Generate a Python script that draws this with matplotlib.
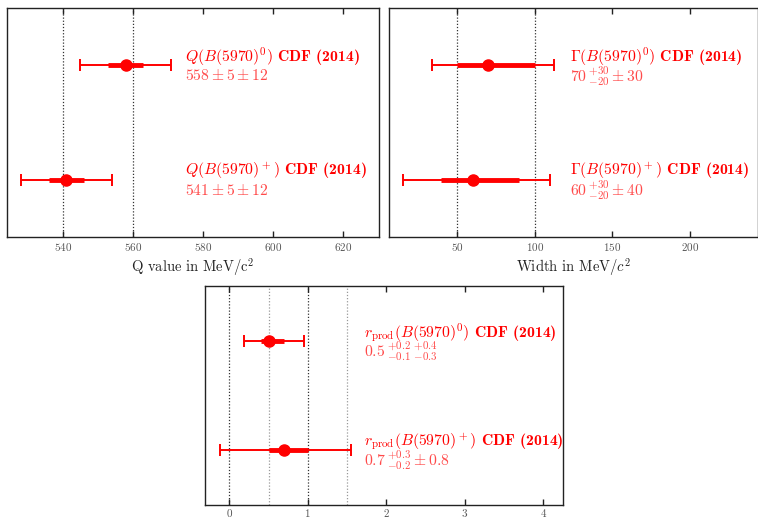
import numpy as np
import matplotlib
matplotlib.use("Agg")
import matplotlib.pyplot as plt

plt.rcParams['mathtext.fontset'] = 'cm'
plt.rcParams['font.family'] = 'serif'
plt.rcParams['font.serif'] = ['cmr10']
plt.rcParams['axes.formatter.use_mathtext'] = True

# ---- data ----
q_vals = [558, 541]
q_stat_lo = [5, 5]
q_stat_hi = [5, 5]
q_syst_lo = [12, 12]
q_syst_hi = [12, 12]
q_labels = [r"$Q(B(5970)^0)$ CDF (2014)", r"$Q(B(5970)^+)$ CDF (2014)"]
q_texts = [r"$558 \pm 5 \pm 12$", r"$541 \pm 5 \pm 12$"]

w_vals = [70, 60]
w_stat_lo = [20, 20]
w_stat_hi = [30, 30]
w_syst_lo = [30, 40]
w_syst_hi = [30, 40]
w_labels = [r"$\Gamma(B(5970)^0)$ CDF (2014)", r"$\Gamma(B(5970)^+)$ CDF (2014)"]
w_texts = [r"$70\,^{+30}_{-20} \pm 30$", r"$60\,^{+30}_{-20} \pm 40$"]

r_vals = [0.5, 0.7]
r_stat_lo = [0.1, 0.2]
r_stat_hi = [0.2, 0.3]
r_syst_lo = [0.3, 0.8]
r_syst_hi = [0.4, 0.8]
r_labels = [r"$r_{\rm prod}(B(5970)^0)$ CDF (2014)", r"$r_{\rm prod}(B(5970)^+)$ CDF (2014)"]
r_texts = [r"$0.5\,^{+0.2}_{-0.1}\,^{+0.4}_{-0.3}$", r"$0.7\,^{+0.3}_{-0.2} \pm 0.8$"]

ypos = [0.75, 0.25]

RED = '#ff0000'
LRED = '#ff4a4a'
SPINE = '#222222'


def panel(ax, vals, slo, shi, ylo, yhi, labels, texts, xlim, xticks, vlines, text_x,
          xlabel=None, vstyles=None, pad=3):
    ax.set_xlim(*xlim)
    ax.set_ylim(0, 1)
    for i, v in enumerate(vlines):
        c = '#333333'
        if vstyles is not None:
            c = vstyles[i]
        ax.axvline(v, color=c, ls=(0, (1, 1.5)), lw=0.9, zorder=1)
    for i in range(len(vals)):
        v = vals[i]
        tlo = np.hypot(slo[i], ylo[i])
        thi = np.hypot(shi[i], yhi[i])
        y = ypos[i]
        ax.errorbar([v], [y], xerr=[[tlo], [thi]], fmt='none', ecolor=RED,
                    elinewidth=1.4, capsize=4.5, capthick=1.4, zorder=3)
        ax.plot([v - slo[i], v + shi[i]], [y, y], color=RED, lw=3.5,
                solid_capstyle='butt', zorder=4)
        ax.plot([v], [y], 'o', color=RED, ms=8, zorder=5)
        ax.text(text_x, y + 0.037, labels[i], color=RED, fontsize=11.3,
                family='cmb10', ha='left', va='center')
        ax.text(text_x, y - 0.047, texts[i], color=LRED, fontsize=11.3,
                ha='left', va='center')
    ax.set_xticks(xticks)
    ax.set_yticks([])
    ax.tick_params(axis='x', direction='in', top=True, bottom=True,
                   length=4, width=1, colors=SPINE, labelcolor='#555555',
                   labelsize=8, pad=pad)
    for s in ax.spines.values():
        s.set_color(SPINE)
        s.set_linewidth(1.0)
    if xlabel:
        ax.set_xlabel(xlabel, fontsize=10.5, color='#222222', labelpad=2)


fig = plt.figure(figsize=(7.58, 5.18), dpi=100)

ax1 = fig.add_axes([0.0092, 0.5425, 0.4908, 0.4421])
panel(ax1, q_vals, q_stat_lo, q_stat_hi, q_syst_lo, q_syst_hi, q_labels, q_texts,
      (524, 630.3), [540, 560, 580, 600, 620], [540, 560], 575,
      xlabel=r"Q value in MeV$/$c$^2$")

ax2 = fig.add_axes([0.5132, 0.5425, 0.4868, 0.4421])
panel(ax2, w_vals, w_stat_lo, w_stat_hi, w_syst_lo, w_syst_hi, w_labels, w_texts,
      (6.2, 243.8), [50, 100, 150, 200], [50, 100], 122.7,
      xlabel=r"Width in MeV$/c^2$")

ax3 = fig.add_axes([0.2704, 0.026, 0.4723, 0.4218])
panel(ax3, r_vals, r_stat_lo, r_stat_hi, r_syst_lo, r_syst_hi, r_labels, r_texts,
      (-0.31, 4.25), [0, 1, 2, 3, 4], [0, 0.5, 1, 1.5], 1.71,
      vstyles=['#333333', '#999999', '#333333', '#999999'], pad=1.5)

fig.savefig("out.png", dpi=100)
